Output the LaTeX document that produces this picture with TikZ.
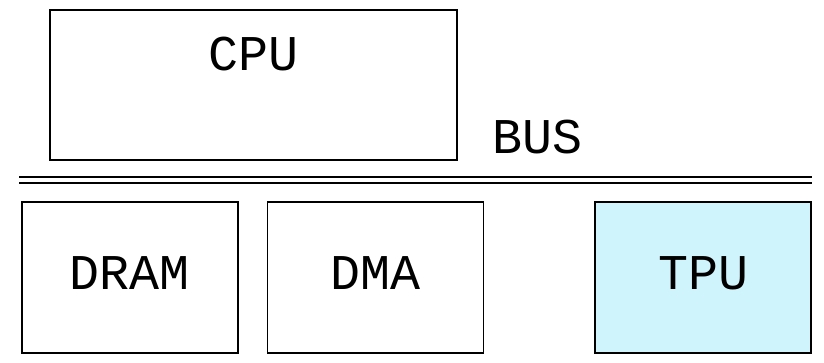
\documentclass[tikz,border=0pt]{standalone}
\usepackage{fontspec}
\setmonofont{Liberation Mono}
\usetikzlibrary{positioning}
\definecolor{tpucyan}{RGB}{208,244,252}
\tikzset{
  unit/.style={draw,line width=1.3pt,inner sep=0pt,font=\ttfamily\fontsize{50}{56}\selectfont},
  busline/.style={line width=1.3pt}
}
\begin{document}
\begin{tikzpicture}[x=1pt,y=-1pt]
\useasboundingbox (0,0) rectangle (824,363);

\node[unit,minimum width=407pt,minimum height=150pt] (cpu) at (253.5,85) {};
\node[unit,draw=none] at (253.5,54) {CPU};
\node[unit,draw=none] (bus) at (537,137) {BUS};

\coordinate (busl) at (19,177);
\coordinate (busr) at (812,177);
\draw[busline] (busl) -- (busr);
\draw[busline] ([yshift=-6pt]busl) -- ([yshift=-6pt]busr);

\node[unit,minimum width=216pt,minimum height=151pt] (dram) at (130,277.5) {};
\node[unit,minimum width=216pt,minimum height=151pt,right=28pt of dram] (dma) {};
\node[unit,minimum width=216pt,minimum height=151pt,fill=tpucyan] (tpu) at (703,277.5) {};
\node[unit,draw=none] at ([yshift=4pt]dram) {DRAM};
\node[unit,draw=none] at ([yshift=4pt]dma) {DMA};
\node[unit,draw=none] at ([yshift=4pt]tpu) {TPU};
\end{tikzpicture}
\end{document}
